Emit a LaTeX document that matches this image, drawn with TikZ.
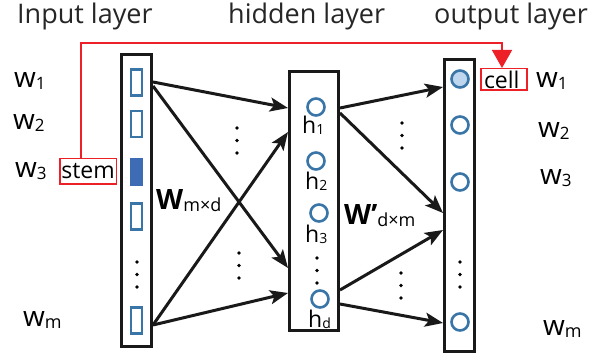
\documentclass[tikz,border=0pt]{standalone}
\usepackage{fontspec}
\setmainfont{Open Sans}
\usetikzlibrary{arrows.meta}

\definecolor{nodeblue}{RGB}{58,117,168}
\definecolor{fillblue}{RGB}{62,108,180}
\definecolor{cellfill}{RGB}{190,214,238}
\definecolor{linkred}{RGB}{236,32,38}

\newcommand{\setfs}[1]{\fontsize{#1}{#1}\selectfont}
% three small vertical dots
\newcommand{\vdotsat}[2]{%
  \fill (#1,#2) circle (1.9pt) (#1,#2+12.5) circle (1.9pt) (#1,#2+25) circle (1.9pt);}

\begin{document}
\begin{tikzpicture}[x=1pt,y=-1pt,
  layerbox/.style={draw=black!90, line width=3pt, inner sep=0pt},
  unitrect/.style={draw=nodeblue, line width=2.4pt, minimum width=11pt, minimum height=26pt, inner sep=0pt},
  unitcirc/.style={circle, draw=nodeblue, line width=2.6pt, minimum size=17pt, inner sep=0pt},
  link/.style={line width=3pt, black!90, -{Stealth[length=18pt,width=14pt,inset=4pt]}},
  titletext/.style={anchor=base west, inner sep=0pt, font=\setfs{27}, text=black!85},
  wlab/.style={anchor=base west, inner sep=0pt, font=\setfs{28}},
  hlab/.style={anchor=base west, inner sep=0pt, font=\setfs{23}},
  tagbox/.style={draw=linkred, line width=1.5pt, inner xsep=0pt, inner ysep=0pt, font=\setfs{23}},
]
\useasboundingbox (0,0) rectangle (594,363);

% layer titles
\node[titletext] (tin)  at (17,24)  {Input layer};
\node[titletext] (thid) at (228,24) {hidden layer};
\node[titletext] (tout) at (434,24) {output layer};

% layer frames
\node[layerbox, minimum width=30pt, minimum height=292pt] (inbox)  at (136.5,200.5) {};
\node[layerbox, minimum width=49pt, minimum height=259pt] (hidbox) at (314,201) {};
\node[layerbox, minimum width=30pt, minimum height=292pt] (outbox) at (459.5,205.5) {};

% input units
\node[unitrect] (r1) at (136.5,82.5) {};
\node[unitrect] (r2) at (136.5,124) {};
\node[unitrect, fill=fillblue, draw=fillblue] (r3) at (136.5,172) {};
\node[unitrect] (r4) at (136.5,216.5) {};
\node[unitrect] (rm) at (136.5,320.5) {};
\vdotsat{137}{262}

% hidden units
\node[unitcirc] (c1) at (316,107) {};
\node[unitcirc] (c2) at (316,161) {};
\node[unitcirc] (c3) at (319,213) {};
\node[unitcirc] (cd) at (320,299) {};
\vdotsat{317}{258}
\node[hlab] (h1) at (302,134) {h\raisebox{-1pt}{\setfs{14}1}};
\node[hlab] (h2) at (305,190) {h\raisebox{-1pt}{\setfs{14}2}};
\node[hlab] (h3) at (305,243) {h\raisebox{-1pt}{\setfs{14}3}};
\node[hlab] (hd) at (308,327) {h\raisebox{-1pt}{\setfs{14}d}};

% output units
\node[unitcirc, fill=cellfill] (o1) at (460,79) {};
\node[unitcirc] (o2) at (460,125) {};
\node[unitcirc] (o3) at (460,182) {};
\node[unitcirc] (om) at (460,322) {};
\vdotsat{460}{262}

% weights: input -> hidden
\draw[link] (inbox.east |- 0,82)  -- (hidbox.west |- 0,108);
\draw[link] (inbox.east |- 0,86)  -- (hidbox.west |- 0,268);
\draw[link] (inbox.east |- 0,325) -- (hidbox.west |- 0,132);
\draw[link] (inbox.east |- 0,325) -- (hidbox.west |- 0,293);
\vdotsat{237}{128}
\vdotsat{239}{253}

% weights: hidden -> output
\draw[link] (hidbox.east |- 0,108) -- (outbox.west |- 0,87);
\draw[link] (hidbox.east |- 0,113) -- (outbox.west |- 0,213);
\draw[link] (hidbox.east |- 0,290) -- (outbox.west |- 0,230);
\draw[link] (hidbox.east |- 0,304) -- (outbox.west |- 0,323);
\vdotsat{402}{123}
\vdotsat{401}{273}

% weight matrix labels
\node[anchor=base west, inner sep=0pt, font=\bfseries\setfs{28}] (wmd) at (156,210)
  {W\raisebox{-2pt}{\mdseries\setfs{18}m×d}};
\node[anchor=base west, inner sep=0pt, font=\bfseries\setfs{28}] (wdm) at (344,225)
  {W'\raisebox{-2pt}{\mdseries\setfs{18}d×m}};

% word labels, left
\node[wlab] (wl1) at (14,88)  {w\raisebox{-2pt}{\setfs{17}1}};
\node[wlab] (wl2) at (13,130) {w\raisebox{-2pt}{\setfs{17}2}};
\node[wlab] (wl3) at (15,178) {w\raisebox{-2pt}{\setfs{17}3}};
\node[wlab] (wlm) at (23,326) {w\raisebox{-2pt}{\setfs{18}m}};
% word labels, right
\node[wlab] (wr1) at (536,88)  {w\raisebox{-2pt}{\setfs{17}1}};
\node[wlab] (wr2) at (538,138) {w\raisebox{-2pt}{\setfs{17}2}};
\node[wlab] (wr3) at (540,185) {w\raisebox{-2pt}{\setfs{17}3}};
\node[wlab] (wrm) at (543,335) {w\raisebox{-2pt}{\setfs{18}m}};

% stem -> cell link
\node[tagbox, minimum width=56.5pt, minimum height=25.5pt] (stem) at (88,171.5) {stem};
\node[tagbox, inner xsep=3pt, minimum height=21.5pt] (cell) at (504,79.5) {\makebox[40pt][l]{cell}};
\coordinate (rs) at ([xshift=-7pt]stem.north);
\coordinate (rc) at ([xshift=-2pt]cell.north);
\draw[linkred, line width=1.5pt, -{Triangle[length=18pt,width=20pt]}] (rs) -- (rs |- 0,43) -| (rc);
\end{tikzpicture}
\end{document}
